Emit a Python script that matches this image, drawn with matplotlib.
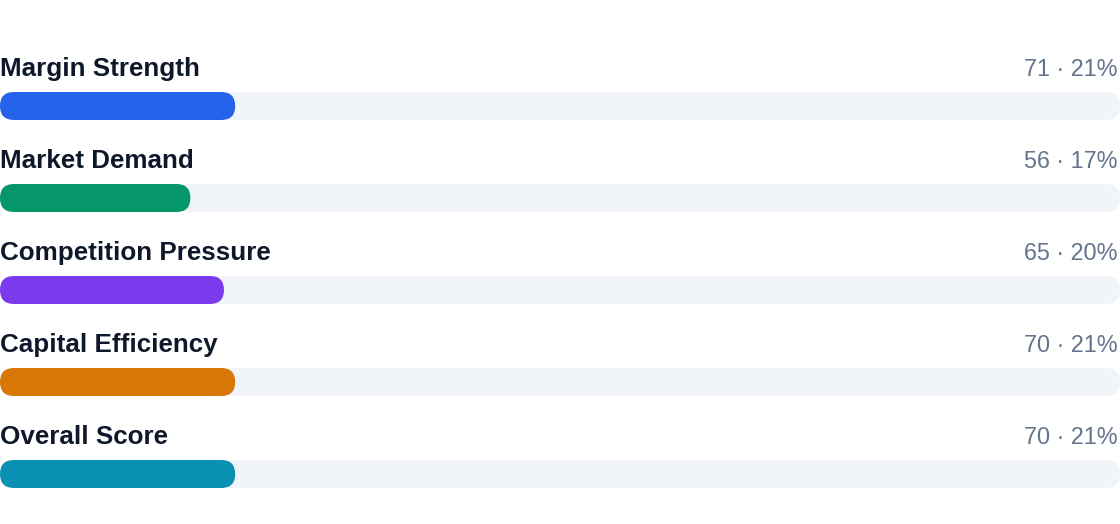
import matplotlib
matplotlib.use("Agg")
import matplotlib.pyplot as plt
from matplotlib.patches import FancyBboxPatch

categories = ["Margin Strength", "Market Demand", "Competition Pressure",
              "Capital Efficiency", "Overall Score"]
scores = [71, 56, 65, 70, 70]
shares = [21, 17, 20, 21, 21]
colors = ["#2563eb", "#059669", "#7c3aed", "#d97706", "#0891b2"]
track_color = "#f1f5f9"
label_color = "#0f172a"
value_color = "#64748b"

W, H, DPI = 1120, 524, 100
fig = plt.figure(figsize=(W / DPI, H / DPI), dpi=DPI)
ax = fig.add_axes([0, 0, 1, 1])
ax.set_axis_off()

row_px = 92.0
first_center_px = 106.0
bar_px = 28.0
ax.set_xlim(0, 100)
ax.set_ylim((H - first_center_px) / row_px, -first_center_px / row_px)

px_x = 100.0 / W          # data units per pixel in x
px_y = 1.0 / row_px       # data units per pixel in y
bar_h = bar_px * px_y
radius = (bar_px / 2) * px_x
aspect = px_y / px_x

def rounded_bar(x0, x1, yc, color, z):
    p = FancyBboxPatch((x0, yc - bar_h / 2), x1 - x0, bar_h,
                       boxstyle=f"round,pad=0,rounding_size={radius}",
                       mutation_aspect=aspect, linewidth=0,
                       facecolor=color, edgecolor="none", zorder=z)
    ax.add_patch(p)

for i, (cat, sc, sh, col) in enumerate(zip(categories, scores, shares, colors)):
    rounded_bar(0, 100, i, track_color, 1)
    rounded_bar(0, sh, i, col, 2)
    ty = i - 30 * px_y
    ax.text(0, ty, cat, ha="left", va="baseline", fontsize=18.75,
            fontweight="bold", color=label_color, family="Liberation Sans")
    ax.text(100 - 2 * px_x, ty, f"{sc} \u00b7 {sh}%", ha="right", va="baseline",
            fontsize=16.8, color=value_color, family="Liberation Sans")

fig.savefig("out.png", dpi=DPI, facecolor="white")
